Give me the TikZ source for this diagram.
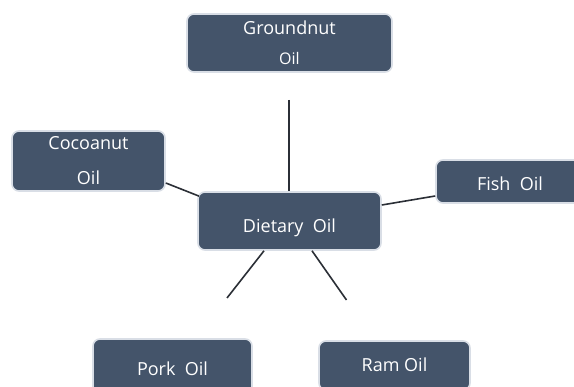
\documentclass[tikz,border=0pt]{standalone}
\usepackage{fontspec}
\setmainfont{Open Sans}
\definecolor{boxfill}{HTML}{44546A}
\definecolor{boxedge}{HTML}{D9DEE6}
\definecolor{linecol}{HTML}{2B2F36}
\definecolor{txt}{HTML}{FFFFFF}
\begin{document}
\begin{tikzpicture}[x=1pt,y=-1pt,
  oilbox/.style={fill=boxfill,draw=boxedge,line width=1.6pt,rounded corners=7pt,
    text=txt,font=\fontsize{18}{22}\selectfont,align=center,inner sep=0pt},
  link/.style={draw=linecol,line width=1.6pt}]
\useasboundingbox[fill=white] (0,0) rectangle (574,387);
\node[oilbox,minimum width=205pt,minimum height=58pt] (gn) at (289.5,43) {Groundnut\\[8pt]{\fontsize{16}{20}\selectfont Oil}};
\node[oilbox,minimum width=153pt,minimum height=60pt] (co) at (88.5,161) {Cocoanut\\[13pt]Oil};
\node[oilbox,minimum width=183pt,minimum height=58pt,text height=24pt,text depth=0pt] (di) at (289.5,221) {Dietary\ \ Oil};
\node[oilbox,minimum width=148pt,minimum height=43pt,text height=18.4pt,text depth=0pt] (fi) at (510,181.5) {Fish\ \ Oil};
\node[oilbox,minimum width=159pt,minimum height=60pt,text height=13pt,text depth=0pt] (po) at (172.5,369) {Pork\ \ Oil};
\node[oilbox,minimum width=151pt,minimum height=49pt,text height=13pt,text depth=0pt] (ra) at (394.5,365.5) {Ram Oil};
\coordinate (gend) at (289,100);
\coordinate (pend) at (227,298);
\coordinate (rend) at (346.5,300);
\draw[link] (gend) -- (gend |- di.north);
\draw[link] ([yshift=-22pt]co.east) -- ([xshift=2pt,yshift=-5pt]di.north west);
\draw[link] ([yshift=-14.5pt]fi.west) -- ([yshift=16pt]di.east);
\draw[link] ([xshift=-25.5pt]di.south) -- (pend);
\draw[link] ([xshift=22.5pt]di.south) -- (rend);
\end{tikzpicture}
\end{document}
